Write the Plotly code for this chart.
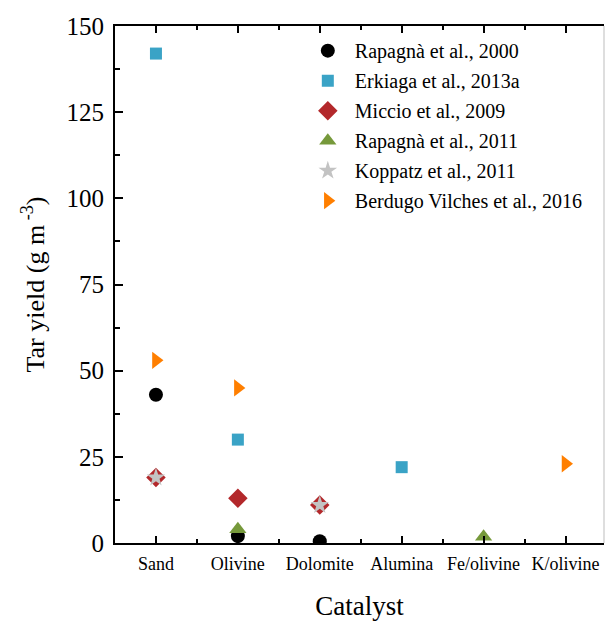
import plotly.graph_objects as go

# Catalyst categories along the x axis
catalysts = ["Sand", "Olivine", "Dolomite", "Alumina", "Fe/olivine", "K/olivine"]

# Tar yield (g m^-3) per study, indexed by catalyst position
rapagna_2000_x = [0, 1, 2]
rapagna_2000_y = [43, 2, 0.5]

erkiaga_2013a_x = [0, 1, 3]
erkiaga_2013a_y = [142, 30, 22]

miccio_2009_x = [0, 1, 2]
miccio_2009_y = [19, 13, 11]

rapagna_2011_x = [1, 4]
rapagna_2011_y = [4, 1.8]

koppatz_2011_x = [0, 2]
koppatz_2011_y = [19, 11]

berdugo_2016_x = [0, 1, 5]
berdugo_2016_y = [53, 45, 23]

series = [
    ("Rapagnà et al., 2000", rapagna_2000_x, rapagna_2000_y, "circle", "#000000", 14),
    ("Erkiaga et al., 2013a", erkiaga_2013a_x, erkiaga_2013a_y, "square", "#3aa3c6", 12),
    ("Miccio et al., 2009", miccio_2009_x, miccio_2009_y, "diamond", "#b3282b", 15),
    ("Rapagnà et al., 2011", rapagna_2011_x, rapagna_2011_y, "triangle-up", "#76993b", 15),
    ("Koppatz et al., 2011", koppatz_2011_x, koppatz_2011_y, "star", "#c3c3c3", 14),
    ("Berdugo Vilches et al., 2016", berdugo_2016_x, berdugo_2016_y, "triangle-right", "#ff7f00", 15),
]

FONT = "'Liberation Serif', 'Times New Roman', 'DejaVu Serif', serif"

fig = go.Figure()
for i, (name, xs, ys, sym, col, size) in enumerate(series):
    fig.add_trace(go.Scatter(
        x=xs, y=ys, mode="markers", name=name, legendgroup=f"g{i}",
        marker=dict(symbol=sym, color=col, size=size, line=dict(width=0)),
    ))

fig.update_layout(
    width=606, height=624,
    margin=dict(l=115, r=2, t=26, b=81),
    paper_bgcolor="white", plot_bgcolor="white",
    font=dict(family=FONT, color="#000000"),
    showlegend=True,
    legend=dict(
        x=0.38, y=0.99, xanchor="left", yanchor="top",
        bgcolor="rgba(0,0,0,0)", borderwidth=0,
        font=dict(family=FONT, size=20),
        tracegroupgap=1, itemwidth=44,
    ),
)

fig.update_xaxes(
    range=[-0.5, 5.47],
    tickmode="array", tickvals=list(range(len(catalysts))), ticktext=catalysts,
    tickfont=dict(family=FONT, size=18),
    ticks="inside", ticklen=7, tickwidth=1.5, tickcolor="#000",
    minor=dict(ticks="inside", ticklen=4, tickwidth=1.5, tickcolor="#000", tick0=0, dtick=0.5),
    showline=True, linecolor="#000", linewidth=2, mirror="ticks",
    showgrid=False, zeroline=False, ticklabelstandoff=3,
    title=dict(text="Catalyst", font=dict(family=FONT, size=27), standoff=24),
)

fig.update_yaxes(
    range=[0, 150], tick0=0, dtick=25,
    tickfont=dict(family=FONT, size=25),
    ticks="inside", ticklen=8, tickwidth=1.5, tickcolor="#000",
    minor=dict(ticks="inside", ticklen=5, tickwidth=1.5, tickcolor="#000", tick0=0, dtick=12.5),
    showline=True, linecolor="#000", linewidth=2, mirror=False,
    showgrid=False, zeroline=False, ticklabelstandoff=4,
    title=dict(text="Tar yield (g m<sup> -3</sup>)", font=dict(family=FONT, size=26), standoff=14),
)

# thin right frame edge
fig.add_shape(type="line", xref="paper", yref="paper", x0=1, x1=1, y0=0, y1=1,
              line=dict(color="#bdbdbd", width=1))

fig.write_html("out.html")
